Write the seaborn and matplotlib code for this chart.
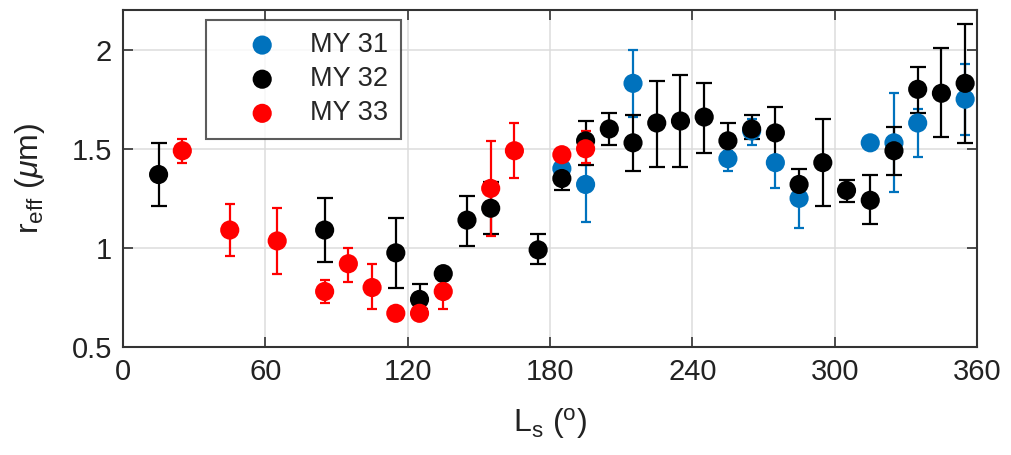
import numpy as np
import pandas as pd
import matplotlib
matplotlib.use("Agg")
import matplotlib.pyplot as plt
import seaborn as sns

# ---- data ----
ls31 = [185, 195, 215, 255, 265, 275, 285, 315, 325, 335, 355]
r31 = [1.40, 1.32, 1.83, 1.45, 1.59, 1.43, 1.25, 1.53, 1.53, 1.63, 1.75]
lo31 = [1.37, 1.13, 1.66, 1.39, 1.52, 1.30, 1.10, 1.51, 1.28, 1.46, 1.57]
hi31 = [1.42, 1.42, 2.00, 1.49, 1.65, 1.46, 1.28, 1.55, 1.78, 1.70, 1.93]

ls32 = [15, 85, 115, 125, 135, 145, 155, 175, 185, 195, 205, 215, 225, 235, 245,
        255, 265, 275, 285, 295, 305, 315, 325, 335, 345, 355]
r32 = [1.37, 1.09, 0.975, 0.74, 0.87, 1.14, 1.20, 0.99, 1.35, 1.54, 1.60, 1.53, 1.63,
       1.64, 1.66, 1.54, 1.60, 1.58, 1.32, 1.43, 1.29, 1.24, 1.49, 1.80, 1.78, 1.83]
lo32 = [1.21, 0.93, 0.80, 0.69, 0.85, 1.01, 1.07, 0.92, 1.29, 1.42, 1.52, 1.39, 1.41,
        1.41, 1.48, 1.44, 1.55, 1.45, 1.24, 1.21, 1.23, 1.12, 1.37, 1.68, 1.56, 1.53]
hi32 = [1.53, 1.25, 1.15, 0.82, 0.89, 1.26, 1.33, 1.07, 1.40, 1.64, 1.68, 1.67, 1.84,
        1.87, 1.83, 1.63, 1.67, 1.71, 1.40, 1.65, 1.34, 1.37, 1.61, 1.91, 2.01, 2.13]

ls33 = [25, 45, 65, 85, 95, 105, 115, 125, 135, 155, 165, 185, 195]
r33 = [1.49, 1.09, 1.035, 0.78, 0.92, 0.80, 0.67, 0.67, 0.78, 1.30, 1.49, 1.47, 1.50]
lo33 = [1.43, 0.96, 0.87, 0.72, 0.83, 0.69, 0.66, 0.66, 0.69, 1.06, 1.35, 1.45, 1.43]
hi33 = [1.55, 1.22, 1.20, 0.84, 1.00, 0.92, 0.68, 0.68, 0.87, 1.54, 1.63, 1.49, 1.59]

labels = ["MY 31", "MY 32", "MY 33"]
xticks = [0, 60, 120, 180, 240, 300, 360]
yticks = [0.5, 1, 1.5, 2]

# ---- style ----
sns.set_theme(style="white")
plt.rcParams['font.family'] = ['Liberation Sans', 'DejaVu Sans']
plt.rcParams['mathtext.fontset'] = 'custom'
plt.rcParams['mathtext.rm'] = 'Liberation Sans'
plt.rcParams['mathtext.it'] = 'Liberation Sans:italic'

colors = ["#0072BD", "#000000", "#FF0000"]
series = [(ls31, r31, lo31, hi31, 3.5), (ls32, r32, lo32, hi32, 6.0), (ls33, r33, lo33, hi33, 3.5)]

fig = plt.figure(figsize=(10.12, 4.55), dpi=100)
ax = fig.add_axes([123/1012, 1-347/455, (977-123)/1012, (347-10)/455])

for (x, y, lo, hi, cap), c, lab in zip(series, colors, labels):
    y = np.array(y); lo = np.array(lo); hi = np.array(hi)
    ax.errorbar(x, y, yerr=[y - lo, hi - y], fmt='none', ecolor=c, elinewidth=1.6,
                capsize=cap, capthick=1.6, zorder=2)
    df = pd.DataFrame({"Ls": x, "r": y})
    sns.scatterplot(data=df, x="Ls", y="r", ax=ax, color=c, s=190, edgecolor='none',
                    label=lab, zorder=3)

ax.set_xlim(0, 360)
ax.set_ylim(0.5, 2.2)
ax.set_xticks(xticks)
ax.set_xticklabels([str(t) for t in xticks])
ax.set_yticks(yticks)
ax.set_yticklabels(["0.5", "1", "1.5", "2"])
ax.grid(True, color="#dcdcdc", linewidth=1.1)
ax.set_axisbelow(True)
for s in ax.spines.values():
    s.set_visible(True)
    s.set_color("#333333")
    s.set_linewidth(1.5)
ax.tick_params(axis='both', direction='in', length=7, width=1.2, colors="#333333",
               labelcolor="#222222", labelsize=21, top=True, right=True, pad=8,
               bottom=True, left=True)

ax.set_xlabel(r"L$_{\rm s}$ ($^{\rm o}$)", fontsize=23, color="#222222", labelpad=14)
ax.set_ylabel(r"r$_{\rm eff}$ ($\mu$m)", fontsize=23, color="#222222", labelpad=18)

leg = ax.legend(loc='upper left', bbox_to_anchor=((206-123)/854, (347-20)/337),
                borderaxespad=0, fontsize=19.5, frameon=True, fancybox=False,
                handletextpad=0.15, handlelength=3.25, labelspacing=0.3,
                borderpad=0.45, markerscale=1.0)
leg.get_frame().set_edgecolor("#333333")
leg.get_frame().set_linewidth(1.5)

fig.savefig("out.png", dpi=100)
